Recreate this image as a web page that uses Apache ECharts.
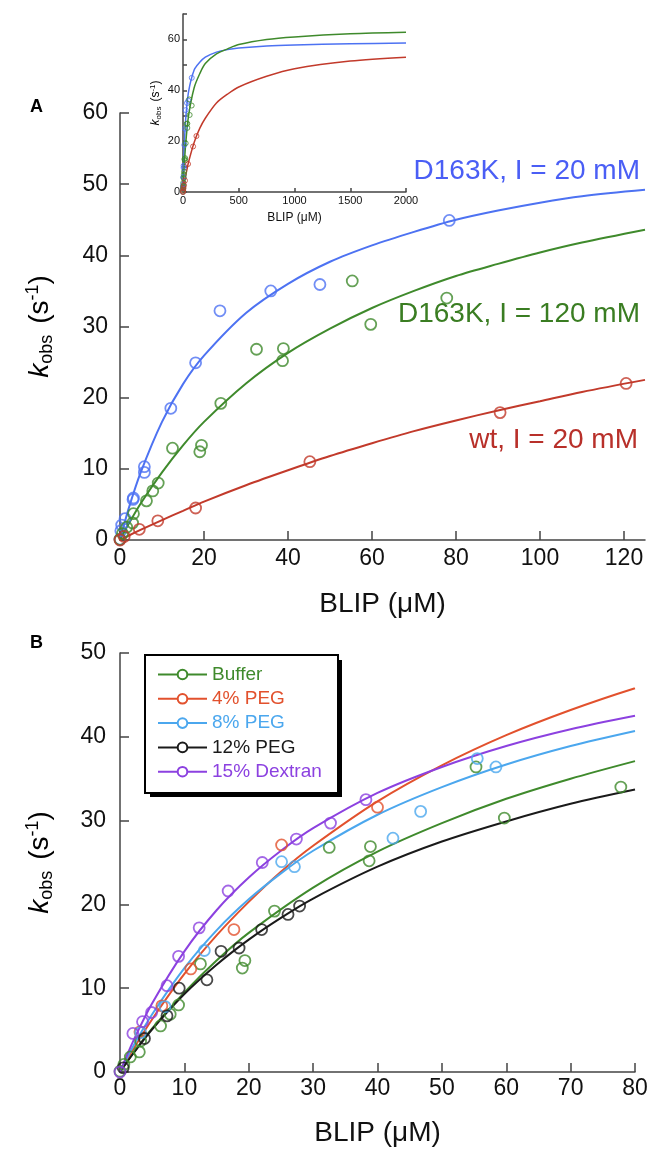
<!DOCTYPE html>
<html>
<head>
<meta charset="utf-8">
<script src="https://cdn.jsdelivr.net/npm/echarts@6/dist/echarts.min.js"></script>
<style>
html,body{margin:0;padding:0;background:#fff;}
#chart{width:656px;height:1149px;}
</style>
</head>
<body>
<div id="chart"></div>
<script>
// ---------- Panel A data ----------
const ticksAX = [0, 20, 40, 60, 80, 100, 120];
const ticksAY = [0, 10, 20, 30, 40, 50, 60];
const d163k20Pts = [[0,0.1],[0.2,1.3],[0.4,2.1],[1.2,3.0],[3.1,5.7],[3.2,5.9],[5.8,9.5],[5.8,10.3],[12.1,18.5],[18.0,24.9],[23.8,32.2],[35.9,35.0],[47.6,35.9],[78.4,44.9]];
const d163k120Pts = [[0,0.1],[0.6,0.9],[1.6,1.8],[3.0,2.4],[3.2,3.7],[6.3,5.5],[7.8,6.9],[9.1,8.0],[12.5,12.9],[19.0,12.4],[19.4,13.3],[24.0,19.2],[32.5,26.8],[38.7,25.2],[38.9,26.9],[55.3,36.4],[59.7,30.3],[77.8,34.0]];
const wt20Pts = [[0,0],[1.0,0.5],[4.6,1.5],[9.0,2.7],[18.0,4.5],[45.2,11.0],[90.5,17.9],[120.5,22.0]];
const fitXA = [0,2,5,10,15,20,30,40,50,60,70,80,90,100,110,125];
const d163k20Fit = [0,4.3,9.6,16.6,21.9,25.9,31.9,36.0,39.1,41.4,43.3,45.0,46.3,47.4,48.3,49.2];
const d163k120Fit = [0,2.2,5.2,9.5,13.3,16.6,22.0,26.3,29.7,32.6,35.0,37.1,38.8,40.4,41.8,43.6];
const wt20Fit = [0,0.6,1.45,2.8,4.1,5.4,7.7,9.8,11.8,13.6,15.3,16.8,18.2,19.5,20.8,22.5];

// ---------- Inset data ----------
const ticksInsetX = [0, 500, 1000, 1500, 2000];
const ticksInsetY = [0, 10, 20, 30, 40, 50, 60, 70];
const labelsInsetY = [0, 20, 40, 60];
const fitXInset = [0,10,25,50,100,150,200,300,400,500,750,1000,1500,2000];
const d163k20FitInset = [0,16.6,29.2,39.5,48,51,53,55,56,56.6,57.4,57.8,58.3,58.6];
const d163k120FitInset = [0,9.5,19.4,30,41,46.5,50.5,54.3,56.3,58,60,61,62.2,62.8];
const wt20FitInset = [0,2.8,6.6,11.8,19.5,25,29,35,38.5,41.3,45.5,48.5,51.5,53];

// ---------- Panel B data ----------
const ticksBX = [0,10,20,30,40,50,60,70,80];
const ticksBY = [0,10,20,30,40,50];
const legendNames = ['Buffer', '4% PEG', '8% PEG', '12% PEG', '15% Dextran'];
const peg4Pts = [[3.1,4.8],[6.5,7.9],[11.0,12.3],[17.7,17.0],[25.1,27.1],[40.0,31.6]];
const peg8Pts = [[3.2,4.7],[7.0,7.8],[13.1,14.5],[25.1,25.1],[27.1,24.5],[42.4,27.9],[46.7,31.1],[55.5,37.4],[58.4,36.4]];
const peg12Pts = [[0.5,0.5],[3.8,4.0],[7.3,6.7],[9.2,10.0],[13.5,11.0],[15.7,14.4],[18.5,14.8],[22.0,17.0],[26.1,18.8],[27.9,19.8]];
const dextranPts = [[0,0],[2.0,4.6],[3.5,6.0],[4.9,7.1],[7.3,10.3],[9.1,13.8],[12.3,17.2],[16.8,21.6],[22.1,25.0],[27.4,27.8],[32.7,29.7],[38.2,32.5]];
const fitXB = [0,2,5,10,15,20,25,30,40,50,60,70,80];
const peg4Fit = [0,2.65,6.3,11.7,16.3,20.3,23.9,27.0,32.3,36.6,40.2,43.2,45.8];
const peg8Fit = [0,3.0,6.9,12.4,16.9,20.6,23.7,26.4,30.7,34.0,36.7,38.9,40.7];
const peg12Fit = [0,2.15,5.1,9.3,12.8,15.8,18.4,20.7,24.5,27.5,29.9,32.0,33.7];
const dextranFit = [0,3.6,8.2,14.4,19.3,23.2,26.4,29.1,33.3,36.4,38.9,40.9,42.5];

// ---------- style ----------
const FONT = "'Liberation Sans', Arial, Helvetica, sans-serif";
const C = {
  blue: '#4d72f2', blueText: '#4a5ef5',
  green: '#3f8a2c', greenText: '#3a7d22',
  red: '#c23a2b', redText: '#b8302a',
  peg4: '#e2512d', peg8: '#4ba7ee', peg12: '#1a1a1a', dextran: '#8c41e0'
};
const legendColors = [C.green, C.peg4, C.peg8, C.peg12, C.dextran];
const AX = '#444';

const curve = (xs, ys) => xs.map((x, i) => [x, ys[i]]);
const upTo = (xs, ys, lim) => curve(xs, ys).filter(p => p[0] <= lim);

function lineS(name, data, color, ai, w) {
  return { type: 'line', name, data, xAxisIndex: ai, yAxisIndex: ai, showSymbol: false, symbol: 'circle',
    smooth: 0.3, lineStyle: { color, width: w },
    itemStyle: { color: '#fff', borderColor: color, borderWidth: 1.5 }, z: 2, animation: false };
}
function ptS(name, data, color, ai, size, bw) {
  return { type: 'scatter', name, data, xAxisIndex: ai, yAxisIndex: ai, symbol: 'circle', symbolSize: size,
    itemStyle: { color: 'rgba(255,255,255,0)', borderColor: color, borderWidth: bw }, z: 3, animation: false };
}

const kRich = (big, small) => ({
  k: { fontStyle: 'italic', fontSize: big, fontFamily: FONT, color: '#000' },
  s: { fontSize: small, fontFamily: FONT, color: '#000', padding: [Math.round(big * 0.5), 0, 0, 0] },
  n: { fontSize: big, fontFamily: FONT, color: '#000' },
  g: { fontSize: big, fontFamily: FONT, color: '#000', width: Math.round(big * 0.4) },
  p: { fontSize: small, fontFamily: FONT, color: '#000', padding: [0, 0, Math.round(big * 0.5), 0] }
});
const kName = '{k|k}{s|obs}{g| }{n|(s}{p|-1}{n|)}';

function valAxis(gi, min, max, interval, ticks, labels, fs, margin, tickLen, extra) {
  return Object.assign({
    type: 'value', gridIndex: gi, min, max, interval,
    axisLine: { show: true, lineStyle: { color: AX, width: 1.5 } },
    axisTick: { show: true, inside: true, length: tickLen, lineStyle: { color: AX, width: 1.5 }, customValues: ticks },
    axisLabel: { fontSize: fs, fontFamily: FONT, color: '#111', margin, customValues: labels, formatter: v => String(v) },
    splitLine: { show: false }
  }, extra || {});
}

const option = {
  backgroundColor: '#fff',
  animation: false,
  grid: [
    { left: 120, top: 113, width: 525, height: 427 },
    { left: 183, top: 14, width: 223, height: 178 },
    { left: 120, top: 653, width: 515, height: 419 }
  ],
  xAxis: [
    valAxis(0, 0, 125, 20, ticksAX, ticksAX, 23, 7, 9, {
      name: 'BLIP (μM)', nameLocation: 'middle', nameGap: 50,
      nameTextStyle: { fontSize: 28, fontFamily: FONT, color: '#111' } }),
    valAxis(1, 0, 2000, 500, ticksInsetX, ticksInsetX, 11, 3, 4, {
      name: 'BLIP (μM)', nameLocation: 'middle', nameGap: 20,
      nameTextStyle: { fontSize: 12, fontFamily: FONT, color: '#111' } }),
    valAxis(2, 0, 80, 10, ticksBX, ticksBX, 23, 5, 9, {
      name: 'BLIP (μM)', nameLocation: 'middle', nameGap: 47,
      nameTextStyle: { fontSize: 28, fontFamily: FONT, color: '#111' } })
  ],
  yAxis: [
    valAxis(0, 0, 60, 10, ticksAY, ticksAY, 23, 12, 9, {
      name: kName, nameLocation: 'middle', nameGap: 64,
      nameTextStyle: { rich: kRich(28, 18) } }),
    valAxis(1, 0, 70, 10, ticksInsetY, labelsInsetY, 11, 3, 4, {
      name: kName, nameLocation: 'middle', nameGap: 20,
      nameTextStyle: { rich: kRich(12, 8) } }),
    valAxis(2, 0, 50, 10, ticksBY, ticksBY, 23, 14, 9, {
      name: kName, nameLocation: 'middle', nameGap: 64,
      nameTextStyle: { rich: kRich(28, 18) } })
  ],
  legend: {
    show: true, z: 10,
    data: legendNames.map((n, i) => ({ name: n, textStyle: { color: legendColors[i] } })),
    orient: 'vertical', left: 157, top: 665,
    itemWidth: 49, itemHeight: 12, itemGap: 5.3,
    textStyle: { fontSize: 19, fontFamily: FONT },
    lineStyle: { width: 2 },
    padding: 0,
    selectedMode: false
  },
  graphic: [
    { type: 'rect', z: 1, shape: { x: 150, y: 660, width: 192, height: 137 }, style: { fill: '#000' } },
    { type: 'rect', z: 2, shape: { x: 145, y: 655, width: 193, height: 138 }, style: { fill: '#fff', stroke: '#000', lineWidth: 2 } },
    { type: 'text', left: 30, top: 98, style: { text: 'A', fontSize: 18, fontWeight: 'bold', fontFamily: FONT, fill: '#000' } },
    { type: 'text', left: 30, top: 634, style: { text: 'B', fontSize: 18, fontWeight: 'bold', fontFamily: FONT, fill: '#000' } },
    { type: 'text', x: 640, y: 171, style: { text: 'D163K, I = 20 mM', fontSize: 28, fontFamily: FONT, fill: C.blueText, align: 'right', verticalAlign: 'middle' } },
    { type: 'text', x: 640, y: 314, style: { text: 'D163K, I = 120 mM', fontSize: 28, fontFamily: FONT, fill: C.greenText, align: 'right', verticalAlign: 'middle' } },
    { type: 'text', x: 638, y: 440, style: { text: 'wt, I = 20 mM', fontSize: 28, fontFamily: FONT, fill: C.redText, align: 'right', verticalAlign: 'middle' } }
  ],
  series: [
    // Panel A
    lineS('D163K, I = 20 mM', curve(fitXA, d163k20Fit), C.blue, 0, 2),
    lineS('D163K, I = 120 mM', curve(fitXA, d163k120Fit), C.green, 0, 2),
    lineS('wt, I = 20 mM', curve(fitXA, wt20Fit), C.red, 0, 2),
    ptS('A blue pts', d163k20Pts, C.blue, 0, 11, 1.8),
    ptS('A green pts', d163k120Pts, C.green, 0, 11, 1.8),
    ptS('A red pts', wt20Pts, C.red, 0, 11, 1.8),
    // Inset
    lineS('inset blue', curve(fitXInset, d163k20FitInset), C.blue, 1, 1.5),
    lineS('inset green', curve(fitXInset, d163k120FitInset), C.green, 1, 1.5),
    lineS('inset red', curve(fitXInset, wt20FitInset), C.red, 1, 1.5),
    ptS('inset blue pts', d163k20Pts, C.blue, 1, 5, 1),
    ptS('inset green pts', d163k120Pts, C.green, 1, 5, 1),
    ptS('inset red pts', wt20Pts, C.red, 1, 5, 1),
    // Panel B
    lineS('Buffer', upTo(fitXA, d163k120Fit, 80), C.green, 2, 2),
    lineS('4% PEG', curve(fitXB, peg4Fit), C.peg4, 2, 2),
    lineS('8% PEG', curve(fitXB, peg8Fit), C.peg8, 2, 2),
    lineS('12% PEG', curve(fitXB, peg12Fit), C.peg12, 2, 2),
    lineS('15% Dextran', curve(fitXB, dextranFit), C.dextran, 2, 2),
    ptS('Buffer pts', d163k120Pts.filter(p => p[0] <= 80), C.green, 2, 11, 1.8),
    ptS('4% PEG pts', peg4Pts, C.peg4, 2, 11, 1.8),
    ptS('8% PEG pts', peg8Pts, C.peg8, 2, 11, 1.8),
    ptS('12% PEG pts', peg12Pts, C.peg12, 2, 11, 1.8),
    ptS('15% Dextran pts', dextranPts, C.dextran, 2, 11, 1.8)
  ]
};

const chart = echarts.init(document.getElementById('chart'), null, { renderer: 'canvas', width: 656, height: 1149 });
chart.setOption(option);
</script>
</body>
</html>
